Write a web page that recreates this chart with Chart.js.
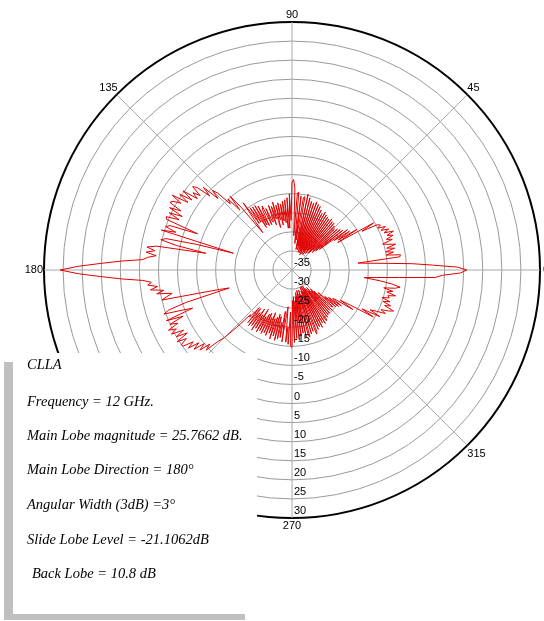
<!DOCTYPE html>
<html>
<head>
<meta charset="utf-8">
<script src="https://cdn.jsdelivr.net/npm/chart.js@4.4.1/dist/chart.umd.min.js"></script>
<style>
    html, body {
        margin: 0;
        padding: 0;
        background: #fff;
        overflow: hidden;
    }

    #wrap {
        position: relative;
        width: 544px;
        height: 621px;
    }

    #polar {
        position: absolute;
        left: 0;
        top: 0;
    }

    .shadow {
        position: absolute;
        left: 4px;
        top: 362px;
        width: 241px;
        height: 258px;
        background: #c0c0c0;
    }

    .info {
        position: absolute;
        left: 13px;
        top: 353px;
        width: 244px;
        height: 261px;
        background: #fff;
    }

    .info div {
        position: absolute;
        left: 14px;
        font-family: "Liberation Serif", "DejaVu Serif", serif;
        font-style: italic;
        font-size: 14.5px;
        line-height: 18px;
        color: #000;
        white-space: nowrap;
    }
</style>
</head>
<body>
<div id="wrap">
    <canvas id="polar" width="544" height="621"></canvas>
    <div class="shadow"></div>
    <div class="info">
        <div style="top: 2px;">CLLA</div>
        <div style="top: 39px;">Frequency = 12 GHz.</div>
        <div style="top: 73px;">Main Lobe magnitude = 25.7662 dB.</div>
        <div style="top: 107px;">Main Lobe Direction = 180°</div>
        <div style="top: 142px;">Angular Width (3dB) =3°</div>
        <div style="top: 177px;">Slide Lobe Level = -21.1062dB</div>
        <div style="top: 211px; left: 19px;">Back Lobe = 10.8 dB</div>
    </div>
</div>

<script>
// radiation pattern in dB, one value per degree (0 = east, counter-clockwise)
const gainQ1 = [
    10.8, 8.4, 1.8, -3.4, -10, -14.7, -17.6, -6.5, -6.3, -10,
    -8, -10, -7.5, -9.5, -7, -9, -10.3, -7.5, -9, -7,
    -8.5, -6.5, -9, -7.5, -9.5, -8, -10, -9, -9.8, -14,
    -10.3, -21, -15, -20.5, -16.8, -21.5, -17, -26, -18, -27,
    -18.5, -28, -19, -27.5, -19.5, -28.5, -19, -29, -18.5, -28,
    -18.5, -29.5, -18, -28.5, -18.5, -30, -18.2, -29, -18, -30,
    -17.5, -29, -18.2, -30.5, -17.5, -29.5, -16.8, -30, -16.5, -29,
    -16, -30, -16.5, -28.5, -16.3, -29.5, -15.5, -28.5, -14.7, -29.5,
    -15.5, -15.8, -27, -15.5, -28, -14.5, -14.8, -26, -13.5, -11.3,
];

const gainQ2 = [
    -12, -22, -15, -24, -16, -24, -16.5, -22.5, -16.8, -22,
    -17.5, -23, -17, -21.5, -17.5, -23.5, -16.5, -21, -17.5, -22.5,
    -17, -21.5, -21.3, -17.5, -22, -16.5, -17.4, -22, -16, -21.5,
    -15.5, -22, -15.5, -20, -15.3, -20, -13.2, -19, -22.6, -14,
    -9.8, -14.2, -10, -11.3, -7, -5.5, -8, -3.2, -6, -2,
    -1, -4, -2.1, -3.9, 0.3, -3, 0.5, -2.5, 2, -1,
    1, 1.6, -2, 1, -3, 0.5, -2.6, 0.8, 0.5, -8.5,
    -1, 0, -3, 0.8, -19, -9, -1, 0.3, -4, -12,
    1, 3.5, 1.3, 3.5, 0.8, 3, 4.2, 9.7, 15, 21,
];

const gainQ3 = [
    25.77, 21, 15, 9.7, 4.2, 2, 3, 0.5, 2.5, -1,
    1, -3, -1.5, 0, -10, -15.3, -17.9, -6, -1, 0.5,
    -4, -7.1, 0.5, -4, 0, -2, 1, -1, 0.8, -2.5,
    0, -3, 0.5, -2, 0, -0.3, -3, -1, -4, -2,
    -5, -3, -6, -4.2, -8, -10, -14, -19, -18.4, -22,
    -17, -22, -16.5, -21, -17, -22.5, -16, -21, -17, -23,
    -16.3, -21, -17, -22, -16.5, -22.5, -17, -21.5, -16.5, -23,
    -17.4, -21.5, -16, -22, -17, -23, -16, -22.5, -16.5, -21,
    -17, -24, -16, -23, -25.3, -16, -20, -15.5, -24, -15,
];

const gainQ4 = [
    -14.7, -27, -16, -28, -17, -26.5, -16.5, -28, -17.5, -29,
    -18.2, -28, -17, -29.5, -17.5, -16.8, -28.5, -17.5, -29.5, -18,
    -28, -17, -17.6, -29, -18, -30, -18.5, -28.5, -18, -30,
    -19, -29, -18.5, -30, -19, -19, -29, -19.5, -28, -20,
    -29, -20, -27.5, -20.5, -28, -20, -27, -21, -20.5, -26,
    -20, -24, -19.5, -23, -19, -22, -20.8, -16, -20, -17.1,
    -10.4, -14, -9, -12, -10.3, -8, -9.5, -7.5, -6.3, -9,
    -7.5, -9.8, -8, -10.3, -8.5, -9, -7, -9.5, -8, -10.5,
    -7.5, -6.3, -8.5, -11.7, -16, -12.4, -6.7, 2.6, 4.5, 9.2,
];

const ringTicks = [-35, -30, -25, -20, -15, -10, -5, 0, 5, 10, 15, 20, 25, 30];
const angleTicks = [0, 45, 90, 135, 180, 225, 270, 315];

const gainAll = [...gainQ1, ...gainQ2, ...gainQ3, ...gainQ4];

// radar runs clockwise from startAngle, so walk the angles backwards
const thetaOrder = gainAll.map((_, i) => (360 - i) % 360);

const LABEL_FONT = '11px "Liberation Sans", Arial, sans-serif';

const polarLabels = {
    id: "polarLabels",

    afterDraw(chart) {
        const scale = chart.scales.r;
        const ctx = chart.ctx;

        ctx.save();
        ctx.font = LABEL_FONT;
        ctx.fillStyle = "#000";

        // dB labels down the 270 axis
        ctx.textAlign = "left";
        ctx.textBaseline = "middle";
        ringTicks.forEach((v) => {
            const d = scale.getDistanceFromCenterForValue(v);
            ctx.fillText(String(v), scale.xCenter + 2, scale.yCenter + d - 7);
        });

        // angle labels round the rim
        const place = {
            0: ["left", "middle", 3, 0],
            45: ["left", "bottom", 0, -1],
            90: ["center", "bottom", 0, -2],
            135: ["right", "bottom", 1, -1],
            180: ["right", "middle", -1, 0],
            225: ["right", "top", 0, 2],
            270: ["center", "top", 0, 2],
            315: ["left", "top", 0, 3],
        };

        angleTicks.forEach((t) => {
            const idx = thetaOrder.indexOf(t);
            const p = scale.getPointPosition(idx, scale.drawingArea);
            const [align, base, dx, dy] = place[t];
            ctx.textAlign = align;
            ctx.textBaseline = base;
            ctx.fillText(String(t), p.x + dx, p.y + dy);
        });

        ctx.restore();
    },
};

new Chart(document.getElementById("polar").getContext("2d"), {
    type: "radar",

    data: {
        labels: thetaOrder.map(String),

        datasets: [
            {
                label: "CLLA",

                data: thetaOrder.map((t) => gainAll[t]),

                borderColor: "rgb(225, 0, 0)",

                borderWidth: 1,

                pointRadius: 0,

                fill: false,

                tension: 0,
            },
        ],
    },

    options: {
        responsive: false,

        animation: false,

        layout: {
            padding: { left: 44, right: 4, top: 22, bottom: 103 },
        },

        scales: {
            r: {
                min: -35,

                max: 30,

                startAngle: 90,

                ticks: {
                    display: false,

                    stepSize: 5,
                },

                grid: {
                    circular: true,

                    color: (c) => (c.tick && c.tick.value === 30 ? "#000" : "#999"),

                    lineWidth: (c) => (c.tick && c.tick.value === 30 ? 2 : 1),
                },

                angleLines: {
                    color: "#a8a8a8",

                    lineWidth: (c) => (thetaOrder[c.index] % 45 === 0 ? 1 : 0),
                },

                pointLabels: {
                    display: false,
                },
            },
        },

        plugins: {
            legend: {
                display: false,
            },

            tooltip: {
                enabled: false,
            },
        },
    },

    plugins: [polarLabels],
});
</script>
</body>
</html>
